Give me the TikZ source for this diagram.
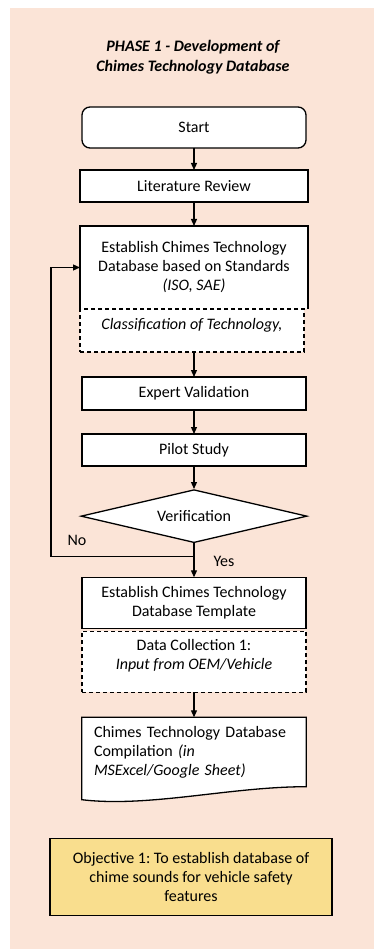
\documentclass[tikz,border=0pt]{standalone}
\usepackage{fontspec}
\setmainfont{Carlito}
\usepackage{tikz}
\usepackage{xcolor}
\usetikzlibrary{shapes,positioning,arrows.meta}
\definecolor{peach}{HTML}{FBE4D7}
\definecolor{gold}{HTML}{F9DE8E}
\pgfdeclarelayer{background}
\pgfsetlayers{background,main}
\frenchspacing

\begin{document}
\begin{tikzpicture}[x=1pt, y=1pt,
    font=\fontsize{16}{19}\selectfont,
    box/.style={draw, line width=1.3pt, fill=white, align=center, minimum width=224pt, outer sep=0pt, inner sep=4pt},
    dashbox/.style={box, dash pattern=on 4pt off 3pt},
    flow/.style={line width=1.2pt, -{Triangle[length=7pt,width=6pt]}}]

\useasboundingbox (0,0) rectangle (374,-949);

\node[align=center, font=\fontsize{16}{20}\selectfont\bfseries\itshape] (title) at (193,-57) {PHASE 1 - Development of\\Chimes Technology Database};

\node[box, rounded corners=8pt, minimum height=41pt] (start) at (194,-127.5) {Start};
\node[box, minimum width=228pt, minimum height=32pt, below=22pt of start] (lit) {Literature Review};
\node[box, draw=none, minimum width=228pt, minimum height=83pt, below=24pt of lit] (est) {Establish Chimes Technology\\Database based on Standards\\\textit{(ISO, SAE)}};
\node[dashbox, minimum height=43pt, text depth=14pt, below=0pt of est.south west, anchor=north west] (class) {\textit{Classification of Technology,}};
\node[box, minimum height=33pt, below=25pt of class, xshift=2pt] (expert) {Expert Validation};
\node[box, minimum height=32pt, below=24pt of expert] (pilot) {Pilot Study};
\node[diamond, aspect=4.2, draw, line width=1.3pt, fill=white, minimum width=226pt, minimum height=53pt, inner sep=0pt, below=23pt of pilot] (ver) {Verification};
\coordinate[below=13pt of ver] (junc);
\coordinate[left=143pt of junc] (fb);
\node[box, minimum height=51pt, below=34pt of ver] (tmpl) {Establish Chimes Technology\\Database Template};
\node[dashbox, minimum height=61pt, text depth=14pt, below=3pt of tmpl] (data) {Data Collection 1:\\\textit{Input from OEM/Vehicle}};
\node[minimum width=224pt, minimum height=69pt, text width=200pt, align=left, inner sep=0pt, below=25pt of data] (doc) {Chimes Technology Database\\Compilation \textit{(in}\\\textit{MSExcel/Google Sheet)}};
\node[box, fill=gold, minimum width=282pt, minimum height=77pt, below=52pt of doc, xshift=-3pt] (obj) {Objective 1: To establish database of\\chime sounds for vehicle safety\\features};

% establish box, open at the bottom
\draw[line width=1.3pt] (est.south west) -- (est.north west) -- (est.north east) -- (est.south east);

% arrows
\draw[flow] (start) -- (lit);
\draw[flow] (lit) -- (est);
\draw[flow] (class.south -| expert.north) -- (expert);
\draw[flow] (expert) -- (pilot);
\draw[flow] (pilot) -- (ver);
\draw[flow] (ver.south) -- (junc) -- (fb) |- (est.west);
\draw[flow] (junc) -- (tmpl);
\draw[flow] (data) -- (doc);

\node (no) at (77,-540) {No};
\node (yes) at (224,-561) {Yes};

\begin{pgfonlayer}{background}
    \path[fill=peach] (10,-8) rectangle (374,-949);
    % document shape
    \filldraw[fill=white, line width=1.3pt] (doc.north west) -- (doc.north east) -- (doc.south east)
        .. controls ([xshift=-76pt]doc.south east) and ([xshift=67pt, yshift=-21pt]doc.south west) .. ([yshift=-13pt]doc.south west) -- cycle;
\end{pgfonlayer}

\end{tikzpicture}
\end{document}
